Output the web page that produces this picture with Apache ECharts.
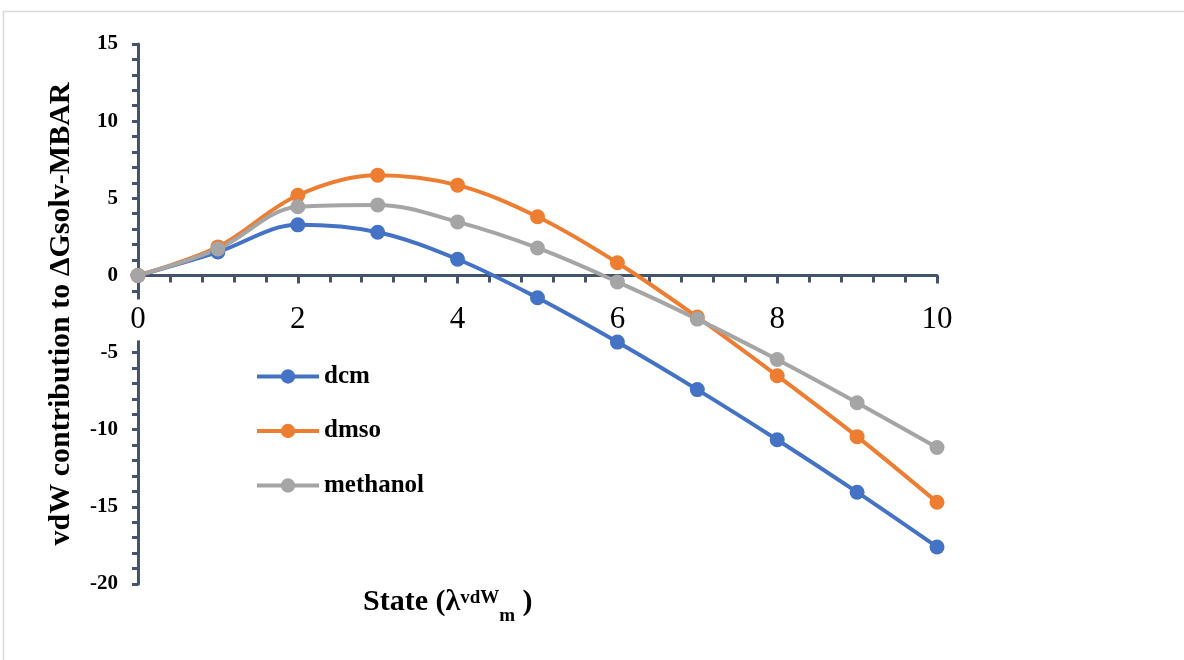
<!DOCTYPE html>
<html>
<head>
<meta charset="utf-8">
<script src="https://cdn.jsdelivr.net/npm/echarts@6/dist/echarts.min.js"></script>
<style>
  html, body { margin: 0; padding: 0; background: #fff; }
  #chart { width: 1184px; height: 660px; }
</style>
</head>
<body>
<div id="chart"></div>
<script>
// values
const states = [0, 1, 2, 3, 4, 5, 6, 7, 8, 9, 10];
const dcm = [0, 1.52, 3.28, 2.8, 1.05, -1.45, -4.32, -7.4, -10.65, -14.05, -17.6];
const dmso = [0, 1.85, 5.2, 6.5, 5.85, 3.8, 0.82, -2.7, -6.5, -10.45, -14.7];
const methanol = [0, 1.72, 4.45, 4.57, 3.47, 1.78, -0.42, -2.83, -5.45, -8.25, -11.15];

const serif = '"Liberation Serif", "Times New Roman", serif';
const axisColor = '#44546A';

// grid box, px
const gridTop = 44;
const gridBottom = 76;
const plotHeight = 660 - gridTop - gridBottom;
const yMin = -20;
const yMax = 15;
// x axis sits at y = 0, measured up from the bottom edge of the grid
const xAxisOffset = -plotHeight * (0 - yMin) / (yMax - yMin);

const chart = echarts.init(document.getElementById('chart'));

function pairs(values) {
  return states.map((s, i) => [s, values[i]]);
}

const lineSeries = [
  { name: 'dcm', data: dcm, color: '#4472C4' },
  { name: 'dmso', data: dmso, color: '#ED7D31' },
  { name: 'methanol', data: methanol, color: '#A5A5A5' },
].map(s => ({
  name: s.name,
  type: 'line',
  smooth: 0.35,
  symbol: 'circle',
  symbolSize: 15,
  itemStyle: { color: s.color },
  lineStyle: { width: 4, color: s.color },
  data: pairs(s.data),
}));

chart.setOption({
  animation: false,
  backgroundColor: '#fff',
  graphic: [{
    type: 'rect',
    shape: { x: 3.5, y: 11.5, width: 1200, height: 700 },
    style: { fill: 'none', stroke: '#d9d9d9', lineWidth: 1.5 },
    silent: true,
    z: -10,
  }],
  title: {
    left: 363,
    top: 578,
    padding: 0,
    text: '{b|State (λ}{sup|vdW}{sub|m}{b| )}',
    textStyle: {
      rich: {
        b: { fontFamily: serif, fontWeight: 'bold', fontSize: 30, color: '#000', lineHeight: 48, verticalAlign: 'middle' },
        sup: { fontFamily: serif, fontWeight: 'bold', fontSize: 19, color: '#000', verticalAlign: 'middle', padding: [0, 0, 8, 0] },
        sub: { fontFamily: serif, fontWeight: 'bold', fontSize: 19, color: '#000', lineHeight: 20, verticalAlign: 'bottom' },
      },
    },
  },
  legend: {
    orient: 'vertical',
    left: 250,
    top: 359,
    itemWidth: 62,
    itemHeight: 18,
    itemGap: 29.5,
    lineStyle: { width: 4 },
    textStyle: { fontFamily: serif, fontWeight: 'bold', fontSize: 25, color: '#000' },
    data: ['dcm', 'dmso', 'methanol'],
  },
  grid: { left: 138, right: 247, top: gridTop, bottom: gridBottom, containLabel: false },
  xAxis: {
    type: 'value',
    min: 0,
    max: 10,
    interval: 2,
    z: 1,
    position: 'bottom',
    offset: xAxisOffset,
    axisLine: { onZero: false, lineStyle: { color: axisColor, width: 3 } },
    axisTick: { show: true, inside: false, length: 8, lineStyle: { color: axisColor, width: 3 } },
    minorTick: { show: true, splitNumber: 5, length: 7, lineStyle: { color: axisColor, width: 3 } },
    splitLine: { show: false },
    axisLabel: {
      color: '#000',
      fontFamily: serif,
      fontSize: 31,
      margin: 24,
      backgroundColor: '#fff',
      padding: [5, 3],
    },
  },
  yAxis: {
    type: 'value',
    min: yMin,
    max: yMax,
    interval: 5,
    z: 0,
    name: 'vdW contribution to ΔGsolv-MBAR',
    nameLocation: 'middle',
    nameGap: 62,
    nameRotate: 90,
    nameTextStyle: { fontFamily: serif, fontWeight: 'bold', fontSize: 30, color: '#000' },
    axisLine: { show: true, lineStyle: { color: axisColor, width: 3 } },
    axisTick: { show: true, inside: false, length: 6, lineStyle: { color: axisColor, width: 3 } },
    minorTick: { show: true, splitNumber: 5, length: 6, lineStyle: { color: axisColor, width: 3 } },
    splitLine: { show: false },
    axisLabel: {
      color: '#000',
      fontFamily: serif,
      fontWeight: 'bold',
      fontSize: 21,
      margin: 20,
    },
  },
  series: lineSeries,
});
</script>
</body>
</html>
